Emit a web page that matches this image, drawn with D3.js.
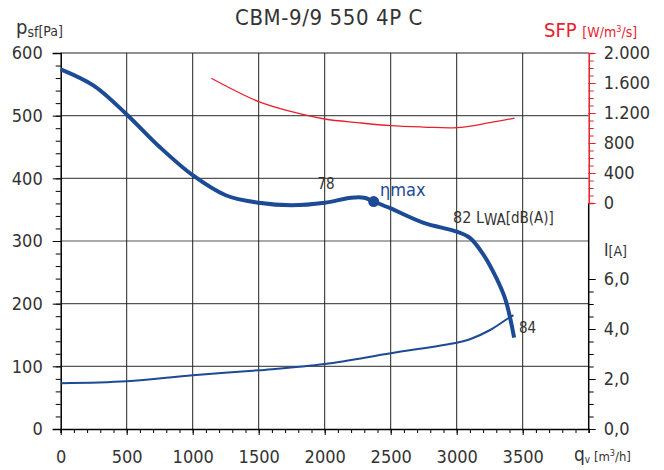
<!DOCTYPE html>
<html>
<head>
<meta charset="utf-8">
<script src="https://cdn.jsdelivr.net/npm/d3@7"></script>
<style>
  body { margin: 0; background: #fff; }
  text { font-family: "DejaVu Sans Condensed", "Liberation Sans Narrow", "Roboto", sans-serif; fill: #333; }
</style>
</head>
<body>
<svg width="664" height="470"></svg>
<script>
// pressure curve p_sf [Pa] vs q_v [m3/h]
const flow = [0, 250, 500, 750, 1000, 1250, 1500, 1750, 2000, 2200, 2300, 2371, 2500, 2750, 3000, 3100, 3200, 3300, 3370, 3435]
const pressure = [574, 548, 502, 450, 405, 373, 361, 357, 361, 369, 369, 363, 352, 329, 315, 305, 279, 241, 206, 146]

// motor current I [A]
const currentFlow = [0, 500, 1000, 1500, 2000, 2500, 3000, 3100, 3250, 3407, 3430]
const current = [1.83, 1.91, 2.15, 2.35, 2.6, 3.03, 3.45, 3.59, 3.95, 4.49, 4.55]

// SFP [W/m3/s]
const sfpFlow = [1141, 1500, 1750, 2000, 2250, 2500, 2750, 3000, 3250, 3438]
const sfp = [1663, 1351, 1217, 1120, 1071, 1031, 1013, 1004, 1071, 1133]

const etaMax = [2371, 363]

const xTicks = [0, 500, 1000, 1500, 2000, 2500, 3000, 3500]
const pTicks = [0, 100, 200, 300, 400, 500, 600]
const sfpTicks = [0, 400, 800, 1200, 1600, 2000]
const sfpLabels = ['0', '400', '800', '1.200', '1.600', '2.000']
const iTicks = [0, 2, 4, 6]
const iLabels = ['0,0', '2,0', '4,0', '6,0']

const blue = '#1d4a94', red = '#e8202e'

const svg = d3.select('svg')

const x = d3.scaleLinear().domain([0, 4000]).range([60.7, 588.7])
const yP = d3.scaleLinear().domain([0, 600]).range([429, 53])
const yS = d3.scaleLinear().domain([0, 2000]).range([203, 53])
const yI = d3.scaleLinear().domain([0, 6]).range([429, 279])

// grid
svg.append('g').selectAll('line').data(pTicks.slice(1))
  .join('line')
  .attr('x1', x(0)).attr('x2', x(4000))
  .attr('y1', d => yP(d)).attr('y2', d => yP(d))
  .attr('stroke', d => d === 600 ? '#222' : '#555').attr('stroke-width', 1.2)
svg.append('g').selectAll('line').data(xTicks.slice(1))
  .join('line')
  .attr('x1', d => x(d)).attr('x2', d => x(d))
  .attr('y1', yP(0)).attr('y2', yP(600))
  .attr('stroke', '#222').attr('stroke-width', 1)

// left axis
svg.append('g')
  .attr('transform', `translate(${x(0)},0)`)
  .call(d3.axisLeft(yP).tickValues(d3.range(0, 601, 20)).tickSize(5).tickFormat(''))
  .call(g => g.select('.domain').remove())
svg.append('g')
  .attr('transform', `translate(${x(0)},0)`)
  .call(d3.axisLeft(yP).tickValues(pTicks).tickSize(8).tickPadding(10).tickFormat(d3.format('d')))
  .call(g => g.selectAll('text').attr('font-size', 18).attr('fill', '#333'))

// bottom axis
svg.append('g')
  .attr('transform', `translate(0,${yP(0)})`)
  .call(d3.axisBottom(x).tickValues(d3.range(0, 4001, 100)).tickSize(4).tickFormat(''))
svg.append('g')
  .attr('transform', `translate(0,${yP(0)})`)
  .call(d3.axisBottom(x).tickValues(xTicks).tickSize(6).tickPadding(15).tickFormat(d3.format('d')))
  .call(g => g.select('.domain').remove())
  .call(g => g.selectAll('text').attr('font-size', 18).attr('fill', '#333'))

// right current axis
svg.append('g')
  .attr('transform', `translate(${x(4000)},0)`)
  .call(d3.axisRight(yI).tickValues(d3.range(0, 6.01, 0.5)).tickSize(5).tickFormat(''))
  .call(g => g.select('.domain').attr('d', `M0,${yP(0)}V${yS(0)}`))
svg.append('g')
  .attr('transform', `translate(${x(4000)},0)`)
  .call(d3.axisRight(yI).tickValues(iTicks).tickSize(7).tickPadding(8).tickFormat((d, i) => iLabels[i]))
  .call(g => g.select('.domain').remove())
  .call(g => g.selectAll('text').attr('font-size', 18).attr('fill', '#333'))

// right SFP axis
svg.append('g')
  .attr('transform', `translate(${x(4000)},0)`)
  .call(d3.axisRight(yS).tickValues(d3.range(0, 2001, 100)).tickSize(5).tickFormat(''))
  .call(g => g.selectAll('line,path').attr('stroke', red))
svg.append('g')
  .attr('transform', `translate(${x(4000)},0)`)
  .call(d3.axisRight(yS).tickValues(sfpTicks).tickSize(7).tickPadding(8).tickFormat((d, i) => sfpLabels[i]))
  .call(g => g.select('.domain').remove())
  .call(g => g.selectAll('line').attr('stroke', red))
  .call(g => g.selectAll('text').attr('font-size', 18).attr('fill', red))

svg.selectAll('.domain').attr('stroke-width', 1.5)

// curves
const lineP = d3.line().x((d, i) => x(flow[i])).y(d => yP(d)).curve(d3.curveCatmullRom.alpha(0.5))
const lineI = d3.line().x((d, i) => x(currentFlow[i])).y(d => yI(d)).curve(d3.curveCatmullRom.alpha(0.5))
const lineS = d3.line().x((d, i) => x(sfpFlow[i])).y(d => yS(d)).curve(d3.curveCatmullRom.alpha(0.5))

svg.append('path').datum(sfp).attr('d', lineS)
  .attr('fill', 'none').attr('stroke', red).attr('stroke-width', 1.3)
svg.append('path').datum(current).attr('d', lineI)
  .attr('fill', 'none').attr('stroke', blue).attr('stroke-width', 2)
svg.append('path').datum(pressure).attr('d', lineP)
  .attr('fill', 'none').attr('stroke', blue).attr('stroke-width', 4)
svg.append('circle')
  .attr('cx', x(etaMax[0])).attr('cy', yP(etaMax[1])).attr('r', 5.5).attr('fill', blue)

// annotations
svg.append('text').attr('x', 380).attr('y', 196).attr('font-size', 18)
  .style('fill', blue).text('ηmax')
svg.append('text').attr('x', 326).attr('y', 189).attr('font-size', 15)
  .attr('text-anchor', 'middle').text('78')
svg.append('text').attr('x', 519).attr('y', 333).attr('font-size', 15).text('84')
const lwa = svg.append('text').attr('x', 453).attr('y', 223).attr('font-size', 16)
lwa.append('tspan').text('82 L')
lwa.append('tspan').attr('font-size', 15).attr('dy', 2).text('WA')
lwa.append('tspan').attr('font-size', 15).attr('dy', -2).text('[dB(A)]')

// titles
svg.append('text').attr('x', 329).attr('y', 25).attr('font-size', 22)
  .attr('letter-spacing', 0.6).attr('text-anchor', 'middle').text('CBM-9/9 550 4P C')

const pl = svg.append('text').attr('x', 16).attr('y', 34).attr('font-size', 20)
pl.append('tspan').text('p')
pl.append('tspan').attr('font-size', 14).attr('dy', 3).text('sf')
pl.append('tspan').attr('font-size', 14).attr('dy', -1).text('[Pa]')

const sl = svg.append('text').attr('x', 544).attr('y', 37).attr('font-size', 20).style('fill', red)
sl.append('tspan').text('SFP ')
sl.append('tspan').attr('font-size', 14).text('[W/m')
sl.append('tspan').attr('font-size', 9).attr('dy', -5).text('3')
sl.append('tspan').attr('font-size', 14).attr('dy', 5).text('/s]')

const il = svg.append('text').attr('x', 604).attr('y', 256).attr('font-size', 17)
il.append('tspan').text('I')
il.append('tspan').attr('font-size', 14).text('[A]')

const ql = svg.append('text').attr('x', 574).attr('y', 461).attr('font-size', 19)
ql.append('tspan').text('q')
ql.append('tspan').attr('font-size', 10).attr('dy', 2).text('v')
ql.append('tspan').attr('font-size', 13).attr('dy', -2).text(' [m')
ql.append('tspan').attr('font-size', 9).attr('dy', -5).text('3')
ql.append('tspan').attr('font-size', 13).attr('dy', 5).text('/h]')
</script>
</body>
</html>
